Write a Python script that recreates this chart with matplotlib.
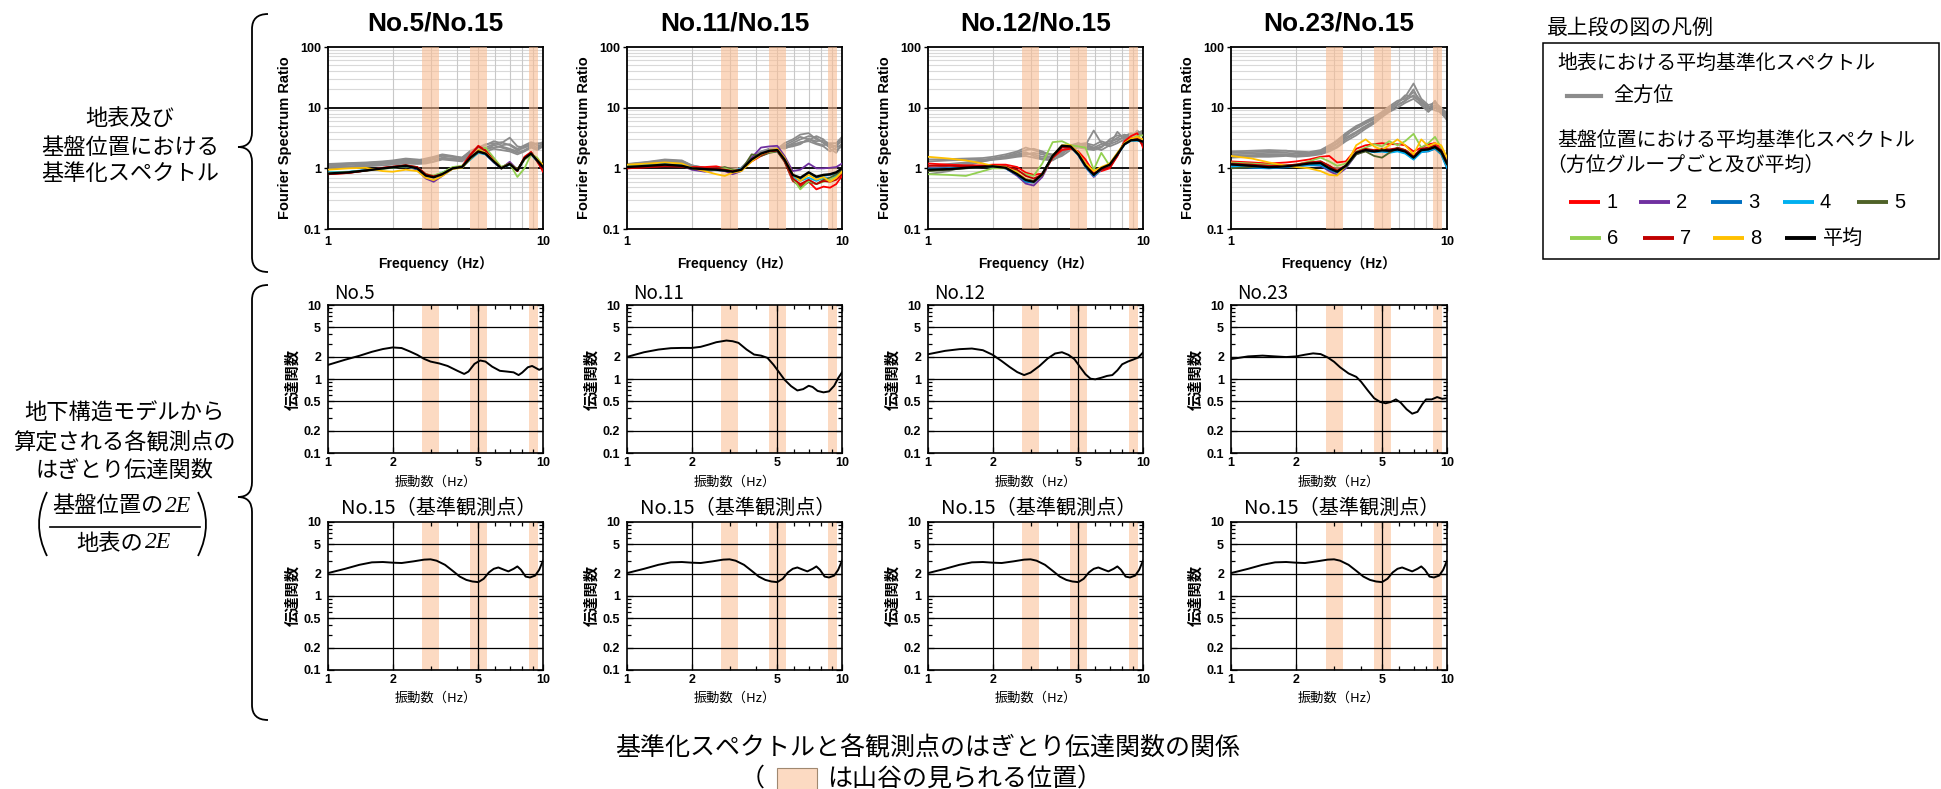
import matplotlib
matplotlib.use("Agg")
import matplotlib.pyplot as plt
from matplotlib.path import Path
from matplotlib.patches import PathPatch, Rectangle
from matplotlib.ticker import FixedLocator, NullLocator

JP = ['Noto Sans CJK JP', 'DejaVu Sans']
LAT = ['Liberation Sans', 'Noto Sans CJK JP', 'DejaVu Sans']
plt.rcParams['font.family'] = JP

# ---------------------------------------------------------------- data
SITES = ['No.5', 'No.11', 'No.12', 'No.23']
REF_SITE = 'No.15'
DIR_LABELS = ['1', '2', '3', '4', '5', '6', '7', '8']
DIR_COLORS = ['#FF0000', '#7030A0', '#0070C0', '#00B0F0',
              '#4F6228', '#92D050', '#C00000', '#FFC000']
GRAY = '#8C8C8C'

# frequency samples of the normalised spectra (Hz)
FREQ_SPEC = [1.0, 1.25, 1.5, 1.8, 2.0, 2.3, 2.6, 2.85, 3.1, 3.4, 3.8, 4.2,
             4.6, 5.0, 5.4, 5.9, 6.4, 7.0, 7.6, 8.2, 8.8, 9.4, 10.0]

# ---- No.5 / No.15
NO5_GRAY = [
    [1.18, 1.22, 1.25, 1.30, 1.35, 1.45, 1.40, 1.35, 1.45, 1.60, 1.55, 1.50, 1.85, 2.10, 2.40, 2.80, 2.60, 3.20, 2.30, 2.20, 2.60, 2.40, 2.20],
    [1.10, 1.14, 1.18, 1.22, 1.25, 1.30, 1.28, 1.25, 1.30, 1.50, 1.45, 1.40, 1.70, 1.90, 2.10, 2.20, 2.30, 2.10, 1.90, 2.30, 2.50, 2.20, 2.60],
    [1.05, 1.08, 1.12, 1.18, 1.20, 1.25, 1.22, 1.30, 1.40, 1.45, 1.40, 1.35, 1.60, 1.80, 2.00, 2.40, 2.20, 2.00, 1.80, 2.00, 2.30, 2.10, 2.40],
    [1.15, 1.20, 1.22, 1.28, 1.30, 1.40, 1.35, 1.45, 1.55, 1.70, 1.60, 1.50, 1.95, 2.20, 2.50, 2.60, 2.40, 2.50, 2.10, 2.40, 2.70, 2.50, 2.70],
    [1.00, 1.04, 1.08, 1.12, 1.15, 1.20, 1.18, 1.20, 1.28, 1.40, 1.35, 1.30, 1.60, 1.75, 1.90, 2.10, 2.00, 1.90, 1.70, 1.90, 2.20, 2.00, 2.30],
    [1.12, 1.16, 1.20, 1.25, 1.30, 1.35, 1.30, 1.38, 1.50, 1.65, 1.55, 1.45, 1.80, 2.00, 2.20, 2.50, 2.70, 2.40, 2.00, 2.20, 2.40, 2.60, 2.50],
]
NO5_DIR = [
    [0.80, 0.84, 0.92, 1.02, 1.06, 1.12, 1.02, 0.78, 0.72, 0.82, 1.02, 1.08, 1.70, 2.35, 2.00, 1.35, 1.02, 1.22, 0.90, 1.55, 1.85, 1.30, 0.88],
    [0.82, 0.86, 0.93, 1.00, 1.03, 1.08, 0.95, 0.68, 0.60, 0.75, 1.00, 1.06, 1.50, 1.85, 1.70, 1.25, 1.00, 1.28, 0.95, 1.40, 1.70, 1.40, 1.10],
    [0.84, 0.87, 0.93, 1.00, 1.04, 1.10, 1.00, 0.78, 0.74, 0.82, 1.00, 1.02, 1.45, 1.85, 1.72, 1.30, 1.02, 1.15, 0.95, 1.45, 1.72, 1.35, 1.08],
    [0.86, 0.88, 0.94, 1.00, 1.03, 1.08, 0.98, 0.78, 0.75, 0.85, 1.02, 1.05, 1.40, 1.80, 1.70, 1.28, 1.00, 1.15, 0.92, 1.40, 1.70, 1.30, 1.05],
    [0.82, 0.85, 0.92, 1.00, 1.05, 1.12, 1.05, 0.80, 0.74, 0.82, 1.00, 1.04, 1.45, 1.85, 1.75, 1.35, 1.05, 1.20, 0.95, 1.45, 1.80, 1.40, 1.10],
    [0.84, 0.87, 0.92, 0.98, 1.02, 1.08, 1.00, 0.80, 0.76, 0.85, 1.05, 1.10, 1.50, 1.95, 2.20, 1.50, 1.05, 1.20, 0.72, 1.00, 1.70, 1.50, 1.10],
    [0.80, 0.84, 0.92, 1.02, 1.06, 1.12, 1.05, 0.80, 0.74, 0.80, 1.00, 1.05, 1.65, 2.30, 1.95, 1.35, 1.00, 1.20, 0.90, 1.50, 1.85, 1.30, 0.95],
    [0.95, 1.00, 1.02, 0.90, 0.88, 0.95, 0.90, 0.70, 0.64, 0.75, 0.98, 1.02, 1.45, 2.00, 1.80, 1.35, 1.00, 1.18, 0.95, 1.40, 1.75, 1.40, 1.15],
]
NO5_MEAN = [0.82, 0.86, 0.92, 1.00, 1.04, 1.10, 1.00, 0.76, 0.71, 0.80, 1.00, 1.05, 1.50, 1.90, 1.75, 1.30, 1.00, 1.18, 0.92, 1.45, 1.75, 1.35, 1.05]

# ---- No.11 / No.15
NO11_GRAY = [
    [1.15, 1.25, 1.35, 1.30, 1.10, 1.00, 0.98, 0.95, 0.92, 1.00, 1.45, 1.85, 2.05, 2.10, 2.20, 2.60, 3.00, 3.40, 3.20, 2.60, 2.20, 2.40, 2.80],
    [1.12, 1.22, 1.30, 1.25, 1.08, 0.98, 0.95, 0.92, 0.90, 0.98, 1.40, 1.80, 2.00, 2.05, 2.40, 2.80, 3.30, 3.00, 2.80, 2.90, 2.50, 2.30, 3.20],
    [1.18, 1.28, 1.40, 1.35, 1.12, 1.02, 1.00, 0.98, 0.95, 1.02, 1.50, 1.90, 2.10, 2.20, 2.10, 2.40, 2.70, 2.80, 2.50, 2.30, 1.90, 2.20, 2.50],
    [1.10, 1.20, 1.28, 1.22, 1.05, 0.96, 0.94, 0.95, 0.92, 0.98, 1.40, 1.80, 2.00, 2.10, 2.60, 3.00, 3.60, 3.80, 3.00, 2.70, 2.40, 2.00, 2.30],
    [1.14, 1.24, 1.32, 1.28, 1.10, 1.00, 0.97, 0.96, 0.93, 1.00, 1.45, 1.85, 2.05, 2.15, 2.30, 2.50, 2.60, 2.90, 3.40, 3.00, 2.10, 1.80, 2.60],
    [1.16, 1.26, 1.36, 1.32, 1.12, 1.02, 0.98, 0.97, 0.94, 1.01, 1.48, 1.88, 2.08, 2.12, 2.20, 2.30, 2.50, 3.10, 2.60, 2.40, 2.60, 2.60, 3.30],
]
NO11_DIR = [
    [1.00, 1.05, 1.10, 1.08, 1.05, 1.05, 1.08, 1.00, 0.92, 0.95, 1.30, 1.60, 1.85, 1.95, 1.30, 0.62, 0.52, 0.60, 0.45, 0.50, 0.48, 0.55, 0.75],
    [1.08, 1.12, 1.15, 1.10, 0.95, 0.88, 0.95, 0.90, 0.80, 0.90, 1.50, 2.20, 2.30, 2.35, 1.60, 0.90, 0.95, 1.20, 1.00, 1.00, 1.02, 1.05, 1.20],
    [1.08, 1.12, 1.16, 1.10, 1.00, 0.95, 0.93, 0.92, 0.90, 0.95, 1.40, 1.70, 1.90, 1.95, 1.40, 0.75, 0.66, 0.85, 0.70, 0.75, 0.78, 0.82, 0.95],
    [1.10, 1.15, 1.18, 1.12, 1.02, 0.98, 0.95, 0.95, 0.92, 0.98, 1.35, 1.65, 1.85, 1.90, 1.35, 0.72, 0.62, 0.70, 0.62, 0.70, 0.68, 0.75, 0.90],
    [1.05, 1.10, 1.14, 1.10, 1.00, 0.95, 0.98, 1.05, 0.95, 0.92, 1.70, 1.60, 1.80, 1.90, 1.30, 0.65, 0.48, 0.60, 0.55, 0.65, 0.70, 0.80, 0.92],
    [1.08, 1.12, 1.15, 1.10, 1.00, 0.96, 0.95, 1.00, 0.92, 0.95, 1.40, 1.70, 1.85, 1.95, 1.40, 0.70, 0.45, 0.62, 0.55, 0.60, 0.66, 0.72, 0.85],
    [1.00, 1.04, 1.08, 1.06, 1.02, 1.00, 1.00, 0.95, 0.90, 0.95, 1.35, 1.65, 1.90, 1.95, 1.35, 0.68, 0.55, 0.65, 0.55, 0.62, 0.60, 0.65, 0.80],
    [1.15, 1.20, 1.25, 1.20, 1.02, 0.90, 0.80, 0.75, 0.85, 0.90, 1.30, 1.70, 1.95, 2.10, 1.50, 0.80, 0.62, 0.78, 0.65, 0.72, 0.60, 0.70, 0.88],
]
NO11_MEAN = [1.05, 1.10, 1.15, 1.10, 1.00, 0.97, 0.95, 0.92, 0.88, 0.95, 1.40, 1.75, 1.95, 2.00, 1.40, 0.78, 0.70, 0.86, 0.73, 0.78, 0.80, 0.86, 1.00]

# ---- No.12 / No.15
NO12_GRAY = [
    [0.80, 0.90, 1.10, 1.30, 1.40, 1.50, 1.60, 1.70, 1.80, 1.70, 1.50, 1.80, 2.20, 2.40, 2.50, 2.20, 2.50, 2.80, 3.00, 3.20, 3.50, 3.60, 3.80],
    [1.00, 1.10, 1.20, 1.35, 1.45, 1.60, 1.80, 2.00, 2.10, 1.90, 1.60, 1.90, 2.40, 2.60, 2.40, 4.20, 2.60, 2.30, 2.60, 3.00, 3.60, 3.80, 4.20],
    [1.30, 1.35, 1.38, 1.40, 1.45, 1.55, 1.70, 1.85, 1.60, 1.45, 1.40, 1.60, 2.00, 2.20, 2.10, 2.00, 2.20, 3.00, 3.50, 3.30, 3.40, 3.50, 3.60],
    [0.90, 1.00, 1.15, 1.32, 1.38, 1.45, 1.55, 1.60, 1.50, 1.40, 1.35, 1.70, 2.30, 2.60, 2.30, 2.20, 2.00, 2.40, 4.00, 3.00, 3.20, 4.20, 3.40],
    [1.40, 1.42, 1.45, 1.48, 1.55, 1.70, 1.90, 2.20, 2.00, 1.80, 1.70, 2.00, 2.20, 2.50, 2.60, 2.40, 2.80, 2.50, 2.80, 3.40, 3.80, 3.60, 4.00],
    [1.10, 1.18, 1.25, 1.35, 1.42, 1.55, 1.65, 1.75, 1.70, 1.55, 1.50, 1.80, 2.10, 2.30, 2.20, 2.10, 2.30, 2.60, 3.20, 3.60, 3.30, 3.40, 3.70],
]
NO12_DIR = [
    [1.20, 1.15, 1.12, 1.12, 1.15, 1.15, 1.05, 0.85, 0.78, 0.82, 1.50, 2.00, 2.10, 1.90, 1.40, 0.85, 0.90, 1.00, 1.60, 2.80, 3.40, 3.80, 2.20],
    [1.00, 1.00, 1.02, 1.05, 1.06, 1.00, 0.75, 0.56, 0.52, 0.72, 1.55, 2.35, 2.30, 1.65, 1.05, 0.72, 0.95, 1.10, 1.70, 2.60, 3.00, 3.00, 2.80],
    [0.95, 0.98, 1.02, 1.06, 1.08, 1.00, 0.78, 0.60, 0.58, 0.78, 1.60, 2.40, 2.30, 1.70, 1.08, 0.76, 0.98, 1.12, 1.70, 2.50, 2.90, 2.90, 2.70],
    [0.98, 1.00, 1.02, 1.05, 1.06, 1.00, 0.80, 0.62, 0.60, 0.80, 1.60, 2.35, 2.25, 1.65, 1.05, 0.75, 0.95, 1.10, 1.65, 2.45, 2.85, 2.85, 2.70],
    [0.90, 0.95, 1.00, 1.05, 1.08, 1.02, 0.82, 0.66, 0.62, 0.82, 1.62, 2.30, 2.25, 1.70, 1.12, 0.80, 1.00, 1.15, 1.75, 2.55, 2.95, 3.00, 2.75],
    [0.80, 0.78, 0.75, 0.90, 1.00, 1.00, 0.90, 0.80, 0.75, 1.20, 2.70, 2.80, 2.40, 2.30, 2.20, 0.95, 1.80, 1.10, 1.70, 2.60, 3.00, 3.40, 3.50],
    [1.10, 1.10, 1.08, 1.08, 1.10, 1.08, 0.95, 0.75, 0.68, 0.78, 1.50, 2.20, 2.20, 1.80, 1.20, 0.82, 0.95, 1.05, 1.60, 2.70, 3.10, 3.20, 2.40],
    [1.55, 1.45, 1.35, 1.20, 1.10, 1.05, 0.85, 0.66, 0.60, 0.78, 1.60, 2.40, 2.40, 1.80, 1.20, 0.90, 1.05, 1.20, 1.80, 2.60, 3.10, 3.30, 3.00],
]
NO12_MEAN = [0.95, 0.97, 1.02, 1.06, 1.08, 1.02, 0.80, 0.64, 0.60, 0.80, 1.60, 2.35, 2.30, 1.70, 1.10, 0.78, 1.00, 1.15, 1.70, 2.50, 2.90, 2.95, 2.75]

# ---- No.23 / No.15
NO23_GRAY = [
    [1.80, 1.85, 1.90, 1.95, 1.90, 1.85, 2.00, 2.40, 2.80, 3.60, 4.50, 5.50, 6.50, 8.00, 10.0, 12.0, 15.0, 25.0, 14.0, 11.0, 12.0, 10.0, 8.00],
    [1.60, 1.65, 1.70, 1.70, 1.65, 1.70, 1.80, 2.10, 2.50, 3.20, 4.00, 5.00, 6.00, 7.50, 9.00, 11.0, 13.0, 16.0, 12.0, 9.50, 13.0, 9.00, 7.00],
    [1.50, 1.55, 1.55, 1.60, 1.55, 1.60, 1.70, 1.90, 2.20, 2.80, 3.50, 4.50, 5.50, 7.00, 8.50, 10.0, 12.0, 14.0, 11.0, 9.00, 10.0, 8.00, 6.50],
    [1.90, 1.95, 2.00, 1.95, 1.85, 1.80, 1.90, 2.20, 2.60, 3.40, 4.80, 6.00, 7.00, 8.50, 10.5, 13.0, 14.0, 18.0, 13.0, 10.0, 11.0, 9.50, 7.50],
    [1.70, 1.75, 1.80, 1.80, 1.75, 1.75, 1.85, 2.30, 2.90, 3.80, 5.00, 5.80, 6.50, 7.80, 9.50, 12.0, 16.0, 15.0, 12.5, 10.5, 9.00, 8.50, 8.50],
    [1.55, 1.60, 1.65, 1.65, 1.60, 1.65, 1.75, 2.00, 2.30, 3.00, 3.80, 4.80, 5.80, 7.20, 9.00, 11.0, 13.0, 20.0, 11.0, 8.50, 11.0, 8.50, 6.20],
]
NO23_DIR = [
    [1.30, 1.25, 1.20, 1.25, 1.30, 1.40, 1.55, 1.60, 1.25, 1.30, 2.10, 2.40, 2.50, 2.60, 2.50, 2.50, 2.40, 1.90, 2.20, 2.50, 2.60, 2.20, 1.30],
    [1.10, 1.06, 1.02, 1.05, 1.10, 1.15, 1.10, 0.90, 0.78, 1.00, 1.70, 1.95, 1.90, 1.95, 1.90, 2.00, 1.85, 1.45, 1.95, 2.00, 2.20, 1.85, 1.20],
    [1.05, 1.02, 1.00, 1.04, 1.08, 1.12, 1.12, 0.95, 0.85, 1.05, 1.75, 1.95, 1.85, 1.90, 1.85, 1.95, 1.80, 1.40, 1.85, 1.90, 2.10, 1.70, 1.00],
    [1.08, 1.04, 1.02, 1.06, 1.10, 1.15, 1.15, 0.98, 0.88, 1.08, 1.80, 2.00, 1.85, 1.90, 1.80, 1.90, 1.75, 1.40, 1.85, 1.95, 2.15, 1.75, 1.05],
    [1.00, 1.05, 1.10, 1.12, 1.15, 1.25, 1.30, 1.10, 0.90, 1.05, 1.70, 1.90, 1.60, 1.50, 1.80, 2.20, 2.00, 1.60, 2.00, 2.10, 2.20, 1.80, 1.15],
    [1.25, 1.20, 1.15, 1.12, 1.15, 1.30, 1.50, 1.30, 1.10, 1.20, 1.90, 2.20, 2.50, 2.30, 2.80, 2.40, 2.80, 3.70, 2.20, 2.60, 3.30, 2.20, 1.30],
    [1.20, 1.15, 1.10, 1.12, 1.15, 1.25, 1.30, 1.10, 0.92, 1.12, 1.85, 2.10, 2.00, 2.10, 2.05, 2.15, 2.00, 1.60, 2.10, 2.20, 2.40, 2.00, 1.25],
    [1.60, 1.45, 1.25, 1.10, 1.05, 1.00, 0.90, 0.78, 0.76, 1.10, 2.40, 3.00, 2.30, 2.00, 2.40, 3.00, 2.40, 1.70, 3.00, 2.30, 2.60, 2.40, 1.50],
]
NO23_MEAN = [1.16, 1.10, 1.04, 1.08, 1.12, 1.20, 1.22, 1.00, 0.88, 1.10, 1.80, 2.00, 1.90, 1.98, 1.95, 2.05, 1.90, 1.50, 2.00, 2.05, 2.25, 1.90, 1.20]

SPEC_GRAY = [NO5_GRAY, NO11_GRAY, NO12_GRAY, NO23_GRAY]
SPEC_DIR = [NO5_DIR, NO11_DIR, NO12_DIR, NO23_DIR]
SPEC_MEAN = [NO5_MEAN, NO11_MEAN, NO12_MEAN, NO23_MEAN]

# stripping transfer functions (base / surface)
TF_NO5_F = [1.0, 1.2, 1.4, 1.6, 1.8, 2.0, 2.2, 2.4, 2.6, 2.8, 3.0, 3.3, 3.6, 4.0, 4.3,
            4.5, 4.8, 5.1, 5.4, 5.8, 6.3, 6.8, 7.3, 7.7, 8.0, 8.5, 8.9, 9.3, 9.6, 10.0]
TF_NO5 = [1.55, 1.82, 2.06, 2.33, 2.54, 2.67, 2.62, 2.36, 2.12, 1.87, 1.72, 1.62, 1.50, 1.29, 1.17,
          1.26, 1.60, 1.78, 1.72, 1.47, 1.29, 1.26, 1.23, 1.13, 1.22, 1.44, 1.50, 1.40, 1.33, 1.40]
TF_NO11_F = [1.0, 1.2, 1.4, 1.6, 1.8, 2.0, 2.2, 2.4, 2.6, 2.9, 3.1, 3.3, 3.6, 3.9, 4.2,
             4.5, 4.8, 5.1, 5.4, 5.8, 6.2, 6.6, 7.0, 7.3, 7.7, 8.2, 8.7, 9.2, 9.6, 10.0]
TF_NO11 = [1.99, 2.30, 2.50, 2.61, 2.63, 2.63, 2.72, 2.92, 3.14, 3.31, 3.24, 3.08, 2.50, 2.14, 2.07,
           1.93, 1.56, 1.23, 0.98, 0.80, 0.70, 0.73, 0.81, 0.78, 0.69, 0.66, 0.68, 0.81, 1.03, 1.23]
TF_NO12_F = [1.0, 1.2, 1.4, 1.6, 1.8, 2.0, 2.2, 2.4, 2.6, 2.8, 3.0, 3.3, 3.6, 3.9, 4.2,
             4.5, 4.8, 5.1, 5.4, 5.7, 6.0, 6.4, 6.8, 7.2, 7.6, 8.0, 8.5, 9.0, 9.5, 10.0]
TF_NO12 = [2.16, 2.40, 2.53, 2.58, 2.45, 2.12, 1.75, 1.45, 1.24, 1.13, 1.22, 1.50, 1.89, 2.21, 2.30,
           2.12, 1.85, 1.45, 1.16, 1.01, 0.99, 1.04, 1.10, 1.13, 1.31, 1.58, 1.72, 1.83, 1.95, 2.28]
TF_NO23_F = [1.0, 1.2, 1.4, 1.6, 1.8, 2.0, 2.2, 2.4, 2.6, 2.8, 3.0, 3.2, 3.5, 3.8, 4.0, 4.3,
             4.6, 4.9, 5.2, 5.5, 5.8, 6.1, 6.5, 6.9, 7.3, 7.7, 8.0, 8.5, 9.0, 9.5, 10.0]
TF_NO23 = [1.86, 2.02, 2.07, 2.02, 1.98, 2.02, 2.13, 2.22, 2.17, 1.96, 1.71, 1.44, 1.19, 1.07, 0.92, 0.70,
           0.55, 0.49, 0.47, 0.49, 0.53, 0.48, 0.39, 0.34, 0.36, 0.46, 0.53, 0.53, 0.57, 0.54, 0.55]
TF_NO15_F = [1.0, 1.2, 1.4, 1.6, 1.8, 2.0, 2.2, 2.5, 2.8, 3.0, 3.2, 3.5, 3.8, 4.1, 4.4, 4.7,
             5.0, 5.3, 5.6, 5.9, 6.2, 6.6, 6.9, 7.3, 7.6, 7.9, 8.3, 8.7, 9.2, 9.6, 10.0]
TF_NO15 = [2.04, 2.33, 2.64, 2.85, 2.88, 2.82, 2.79, 2.94, 3.10, 3.13, 3.00, 2.64, 2.19, 1.83, 1.65, 1.57,
           1.54, 1.71, 2.08, 2.33, 2.43, 2.26, 2.15, 2.33, 2.51, 2.26, 1.83, 1.78, 1.89, 2.26, 3.00]

TF_FREQ = [TF_NO5_F, TF_NO11_F, TF_NO12_F, TF_NO23_F]
TF_VALS = [TF_NO5, TF_NO11, TF_NO12, TF_NO23]

# frequency ranges where peaks / troughs are seen (Hz)
BANDS = [(2.75, 3.3), (4.6, 5.5), (8.6, 9.5)]

SPEC_YTICKS = [0.1, 1, 10, 100]
SPEC_YTICKLABELS = ['0.1', '1', '10', '100']
TF_YTICKS = [0.1, 0.2, 0.5, 1, 2, 5, 10]
TF_YTICKLABELS = ['0.1', '0.2', '0.5', '1', '2', '5', '10']
TF_XTICKS = [1, 2, 5, 10]
TF_XTICKLABELS = ['1', '2', '5', '10']

# ---------------------------------------------------------------- figure
W, H = 1941, 789
fig = plt.figure(figsize=(W / 100, H / 100), dpi=100)
fig.patch.set_facecolor('white')

BAND_TOP = '#F9BD94'
BAND_FLAT = '#FCDAC2'


def add_px_axes(x0, y0, x1, y1):
    return fig.add_axes([x0 / W, 1 - y1 / H, (x1 - x0) / W, (y1 - y0) / H])


COLS = [(328, 543), (627, 842), (928, 1143), (1231, 1447)]
ROW_TOP = (47, 229)
ROW_MID = (305, 453)
ROW_BOT = (522, 670)

# overlay in pixel coordinates for free text and decorations
ov = fig.add_axes([0, 0, 1, 1], zorder=10)
ov.set_xlim(0, W)
ov.set_ylim(H, 0)
ov.axis('off')
ov.patch.set_visible(False)

tick_kw = dict(fontfamily=LAT, fontweight='bold', fontsize=9)


def spectrum_panel(ax, grays, dirs, mean):
    ax.set_xscale('log')
    ax.set_yscale('log')
    for dec in (0.1, 1, 10):
        for m in range(2, 10):
            ax.axhline(dec * m, color='#D9D9D9', lw=0.8, zorder=1)
    for m in range(2, 10):
        ax.axvline(m, color='#C8C8C8', lw=0.8, zorder=1)
    for v in (1, 10):
        ax.axhline(v, color='black', lw=1.3, zorder=1.5)
    for g in grays:
        ax.plot(FREQ_SPEC, g, color=GRAY, lw=1.3, zorder=2)
    for lo, hi in BANDS:
        ax.axvspan(lo, hi, color=BAND_TOP, alpha=0.6, lw=0, zorder=3)
    for vals, c in zip(dirs, DIR_COLORS):
        ax.plot(FREQ_SPEC, vals, color=c, lw=1.3, zorder=4)
    ax.plot(FREQ_SPEC, mean, color='black', lw=1.7, zorder=5)
    ax.set_xlim(1, 10)
    ax.set_ylim(0.1, 100)
    ax.set_yticks(SPEC_YTICKS, SPEC_YTICKLABELS, **tick_kw)
    ax.set_xticks([1, 10], ['1', '10'], **tick_kw)
    ax.xaxis.set_minor_locator(NullLocator())
    ax.yaxis.set_minor_locator(NullLocator())
    ax.tick_params(axis='y', length=3, width=1, pad=2)
    ax.tick_params(axis='x', length=0, pad=5)
    for s in ax.spines.values():
        s.set_linewidth(1.3)


def transfer_panel(ax, freq, vals):
    ax.set_xscale('log')
    ax.set_yscale('log')
    for lo, hi in BANDS:
        ax.axvspan(lo, hi, color=BAND_FLAT, lw=0, zorder=0.5)
    for v in (0.2, 0.5, 1, 2, 5):
        ax.axhline(v, color='black', lw=0.9, zorder=1)
    for v in (2, 5):
        ax.axvline(v, color='black', lw=0.9, zorder=1)
    ax.plot(freq, vals, color='black', lw=1.4, zorder=3)
    ax.set_xlim(1, 10)
    ax.set_ylim(0.1, 10)
    ax.set_yticks(TF_YTICKS, TF_YTICKLABELS, **tick_kw)
    ax.set_xticks(TF_XTICKS, TF_XTICKLABELS, **tick_kw)
    ax.xaxis.set_minor_locator(FixedLocator([3, 4, 6, 7, 8, 9]))
    ax.yaxis.set_minor_locator(FixedLocator([0.3, 0.4, 0.6, 0.7, 0.8, 0.9,
                                             3, 4, 6, 7, 8, 9]))
    ax.xaxis.set_minor_formatter(plt.NullFormatter())
    ax.yaxis.set_minor_formatter(plt.NullFormatter())
    ax.tick_params(which='both', direction='in', top=True, right=True, width=0.9)
    ax.tick_params(which='major', length=4)
    ax.tick_params(which='minor', length=3)
    ax.tick_params(axis='y', pad=5)
    ax.tick_params(axis='x', pad=3)
    for s in ax.spines.values():
        s.set_linewidth(1.2)


for i, site in enumerate(SITES):
    x0, x1 = COLS[i]
    cx = (x0 + x1) / 2
    yc_top = (ROW_TOP[0] + ROW_TOP[1]) / 2
    yc_mid = (ROW_MID[0] + ROW_MID[1]) / 2
    yc_bot = (ROW_BOT[0] + ROW_BOT[1]) / 2

    ax = add_px_axes(x0, ROW_TOP[0], x1, ROW_TOP[1])
    spectrum_panel(ax, SPEC_GRAY[i], SPEC_DIR[i], SPEC_MEAN[i])
    ov.text(cx, 23, f'{site}/{REF_SITE}', ha='center', va='center',
            fontsize=19, fontweight='bold', family=LAT)
    ov.text(x0 - 43, yc_top, 'Fourier Spectrum Ratio', rotation=90, ha='center',
            va='center', fontsize=10.5, fontweight='bold', family=LAT)
    ov.text(cx, 264, 'Frequency（Hz）', ha='center', va='center',
            fontsize=10, fontweight='bold', family=LAT)

    ax = add_px_axes(x0, ROW_MID[0], x1, ROW_MID[1])
    transfer_panel(ax, TF_FREQ[i], TF_VALS[i])
    ov.text(x0 + 6, 293, site, ha='left', va='center', fontsize=13.5, family=JP)
    ov.text(x0 - 36, yc_mid, '伝達関数', rotation=90, ha='center', va='center',
            fontsize=11, fontweight='bold', family=JP)
    ov.text(cx, 482, '振動数（Hz）', ha='center', va='center', fontsize=9.5, family=JP)

    ax = add_px_axes(x0, ROW_BOT[0], x1, ROW_BOT[1])
    transfer_panel(ax, TF_NO15_F, TF_NO15)
    ov.text(cx + 3, 508, f'{REF_SITE}（基準観測点）', ha='center', va='center',
            fontsize=14.5, family=JP)
    ov.text(x0 - 36, yc_bot, '伝達関数', rotation=90, ha='center', va='center',
            fontsize=11, fontweight='bold', family=JP)
    ov.text(cx, 698, '振動数（Hz）', ha='center', va='center', fontsize=9.5, family=JP)


# ---------------------------------------------------------------- braces
def brace(x_tip, x_mid, x_end, y0, ymid, y1, r=15):
    verts = [(x_end, y0), (x_mid, y0), (x_mid, y0 + r),
             (x_mid, ymid - r), (x_mid, ymid), (x_tip, ymid),
             (x_mid, ymid), (x_mid, ymid + r),
             (x_mid, y1 - r), (x_mid, y1), (x_end, y1)]
    codes = [Path.MOVETO, Path.CURVE3, Path.CURVE3,
             Path.LINETO, Path.CURVE3, Path.CURVE3,
             Path.CURVE3, Path.CURVE3,
             Path.LINETO, Path.CURVE3, Path.CURVE3]
    ov.add_patch(PathPatch(Path(verts, codes), fill=False, lw=1.3, edgecolor='black'))


brace(238, 252, 268, 14, 147, 272)
brace(238, 252, 268, 285, 497, 720)

# left row descriptions
for y, s in zip([118, 147, 173], ['地表及び', '基盤位置における', '基準化スペクトル']):
    ov.text(130, y, s, ha='center', va='center', fontsize=16, family=JP)
for y, s in zip([413, 442, 470], ['地下構造モデルから', '算定される各観測点の', 'はぎとり伝達関数']):
    ov.text(124, y, s, ha='center', va='center', fontsize=16, family=JP)

ov.text(163, 506, '基盤位置の', ha='right', va='center', fontsize=16, family=JP)
ov.text(165, 506, '2E', ha='left', va='center', fontsize=17, style='italic',
        family=['Liberation Serif', 'DejaVu Serif'])
ov.text(143, 543, '地表の', ha='right', va='center', fontsize=16, family=JP)
ov.text(145, 543, '2E', ha='left', va='center', fontsize=17, style='italic',
        family=['Liberation Serif', 'DejaVu Serif'])
ov.plot([50, 200], [527, 527], color='black', lw=1.2)
for xe, xc in ((47, 31), (198, 214)):
    ov.add_patch(PathPatch(Path([(xe, 492), (xc, 524), (xe, 556)],
                                [Path.MOVETO, Path.CURVE3, Path.CURVE3]),
                           fill=False, lw=1.3, edgecolor='black'))

# ---------------------------------------------------------------- legend
ov.text(1547, 28, '最上段の図の凡例', ha='left', va='center', fontsize=15, family=JP)
ov.add_patch(Rectangle((1543, 43), 396, 216, fill=False, lw=1.1, edgecolor='black'))
ov.text(1557, 63, '地表における平均基準化スペクトル', ha='left', va='center',
        fontsize=14.3, family=JP)
ov.plot([1567, 1601], [96, 96], color=GRAY, lw=3)
ov.text(1613, 96, '全方位', ha='left', va='center', fontsize=14.5, family=JP)
ov.text(1557, 140, '基盤位置における平均基準化スペクトル', ha='left', va='center',
        fontsize=14.3, family=JP)
ov.text(1546, 165, '（方位グループごと及び平均）', ha='left', va='center',
        fontsize=14.3, family=JP)

legend_slots = [(1569, 202), (1639, 202), (1711, 202), (1783, 202), (1857, 202),
                (1570, 238), (1643, 238), (1713, 238), (1785, 238)]
legend_items = list(zip(DIR_LABELS, DIR_COLORS)) + [('平均', 'black')]
for (lx, ly), (lab, col) in zip(legend_slots, legend_items):
    ov.plot([lx, lx + 31], [ly, ly], color=col, lw=2.8, solid_capstyle='butt')
    fam = JP if lab == '平均' else LAT
    ov.text(lx + 37 if lab != '平均' else lx + 38, ly, lab, ha='left', va='center',
            fontsize=14.5, family=fam)

# ---------------------------------------------------------------- caption
ov.text(928, 748, '基準化スペクトルと各観測点のはぎとり伝達関数の関係',
        ha='center', va='center', fontsize=18, family=JP)
ov.text(740, 779, '（', ha='left', va='center', fontsize=18, family=JP)
ov.add_patch(Rectangle((777, 768), 40, 22, facecolor=BAND_FLAT,
                       edgecolor='#A08870', lw=0.8))
ov.text(827, 779, 'は山谷の見られる位置）', ha='left', va='center', fontsize=18, family=JP)

fig.savefig('out.png', dpi=100)
